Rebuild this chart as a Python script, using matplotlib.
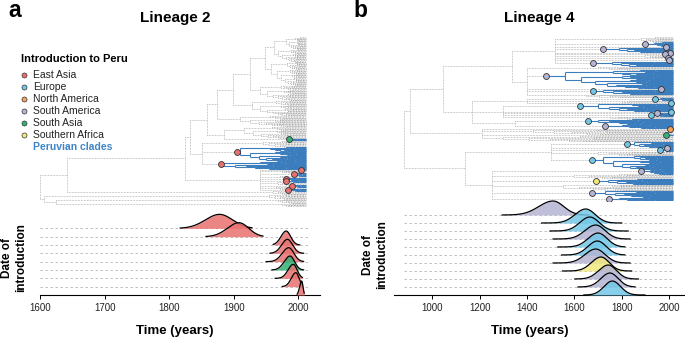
import matplotlib
matplotlib.use("Agg")
import matplotlib.pyplot as plt
from matplotlib.collections import LineCollection
import numpy as np

plt.rcParams["font.family"] = ["Liberation Sans", "DejaVu Sans"]

W, H = 685, 338

REGIONS = ["East Asia", "Europe", "North America", "South America",
           "South Asia", "Southern Africa"]
REGION_COLORS = ["#e8716f", "#72c7e7", "#f2a25a", "#b4b4d4", "#33b074", "#f1e97e"]
COL = dict(zip(REGIONS, REGION_COLORS))
PERU_BLUE = "#3b7dbd"
GRAY = "#999999"

EA, EU, NA, SAM, SAS, SAF = REGIONS

# ---------------------------------------------------------------- ridges
L2_RIDGE_REGION = [EA, EA, EA, EA, EA, SAS, EA, EA, EA]
L2_RIDGE_MODE = [1878, 1908, 1981, 1983, 1985, 1987, 1992, 1996, 2005]
L2_RIDGE_SDL = [22, 18, 8, 9, 10, 9, 8, 7, 3]
L2_RIDGE_SDR = [20, 15, 7, 8, 8, 7, 6, 5, 2]
L2_RIDGE_LO = [1817, 1857, 1961, 1956, 1950, 1959, 1964, 1975, 1998]
L2_RIDGE_HI = [1928, 1945, 2002, 2008, 2008, 2008, 2006, 2006, 2009]

L4_RIDGE_REGION = [SAM, EU, EU, SAM, EU, EU, SAM, SAF, SAM, SAM, EU]
L4_RIDGE_MODE = [1510, 1648, 1665, 1690, 1700, 1697, 1690, 1712, 1743, 1750, 1760]
L4_RIDGE_SDL = [60, 45, 42, 45, 42, 40, 45, 40, 40, 38, 35]
L4_RIDGE_SDR = [45, 40, 40, 40, 38, 38, 40, 35, 35, 35, 35]
L4_RIDGE_LO = [1295, 1462, 1497, 1510, 1530, 1546, 1510, 1550, 1602, 1615, 1640]
L4_RIDGE_HI = [1660, 1800, 1827, 1835, 1813, 1813, 1835, 1842, 1870, 1856, 1898]


# ---------------------------------------------------------------- trees
# N(time, children) internal node, G(n tips, mrca) grey clade,
# I(region, n tips, introduction date, mrca) Peruvian clade
def N(t, kids):
    return ("N", t, kids)


def G(k, t0):
    return ("G", k, t0)


def I(region, k, t_in, t0=None):
    return ("I", region, k, t_in, t_in if t0 is None else t0)


L2_TREE = N(1600, [
    N(1642, [
        N(1824, [
            N(1832, [
                N(1858, [
                    N(1874, [
                        N(1899, [
                            N(1925, [
                                N(1948, [
                                    N(1962, [G(18, 1980), G(18, 1968)]),
                                    G(34, 1958),
                                ]),
                                G(22, 1940),
                            ]),
                            G(22, 1928),
                        ]),
                        G(15, 1910),
                    ]),
                    N(1885, [G(18, 1915), I(SAS, 3, 1985)]),
                ]),
                N(1850, [G(9, 1945), I(EA, 22, 1905, 1910), I(EA, 10, 1880, 1883)]),
            ]),
            N(1940, [I(EA, 2, 2004), G(4, 1975), I(EA, 4, 1993, 1997), G(3, 1972),
                     I(EA, 3, 1981, 1986), I(EA, 3, 1981, 1988), G(4, 1968),
                     I(EA, 3, 1990, 1995), G(3, 1965), I(EA, 3, 1984, 1991)]),
        ]),
        G(5, 1960),
    ]),
    N(1606, [G(7, 1955), N(1625, [G(5, 1968), G(6, 1975)])]),
])

L4_TREE = N(880, [
    N(905, [
        N(1045, [
            N(1336, [
                N(1518, [G(8, 1880), I(SAM, 6, 1898, 1935), I(SAM, 2, 1988),
                         I(SAM, 8, 1719, 1790), I(SAM, 2, 2005), I(SAM, 2, 1983),
                         G(4, 1900), I(SAM, 2, 1994), I(SAM, 4, 2000, 2002),
                         I(SAM, 8, 1677, 1760)]),
                N(1400, [G(5, 1700), I(SAM, 28, 1482, 1560), I(SAM, 2, 1965),
                         I(EU, 8, 1677, 1720), G(5, 1650)]),
            ]),
            N(1167, [
                N(1400, [I(EU, 4, 1941, 1960), G(3, 1800), I(EU, 2, 2008)]),
                N(1300, [I(EU, 12, 1624, 1700), I(EU, 2, 2008), I(SAM, 2, 1948),
                         I(EU, 4, 1923, 1950), G(4, 1750)]),
                N(1350, [I(EU, 8, 1656, 1700), I(SAM, 6, 1729, 1800)]),
            ]),
        ]),
        N(1210, [I(NA, 2, 2002), G(8, 1425), I(SAS, 2, 1988), G(9, 1300)]),
    ]),
    N(1138, [
        N(1500, [I(EU, 9, 1824, 1850), I(SAM, 2, 1990), I(EU, 4, 1960, 1980),
                 G(7, 1700), I(EU, 22, 1675, 1720)]),
        N(1250, [I(SAM, 6, 1881, 1920), G(8, 1600), I(SAF, 8, 1690, 1740),
                 G(10, 1550), I(SAM, 10, 1675, 1730), I(SAM, 6, 1744, 1790)]),
    ]),
])


def fan(k, t0, T, ctx, style):
    if k == 1:
        y = ctx["next"]
        ctx["next"] += 1
        ctx[style].append([(t0, y), (T, y)])
        return y
    n_top = max(1, k // 3)
    t_top = t0 + (T - t0) * 0.45
    t_bot = t0 + (T - t0) * 0.15
    y1 = fan(n_top, t_top, T, ctx, style)
    y2 = fan(k - n_top, t_bot, T, ctx, style)
    ctx[style] += [[(t0, y1), (t0, y2)], [(t0, y1), (t_top, y1)],
                   [(t0, y2), (t_bot, y2)]]
    return (y1 + y2) / 2


def layout(node, t_parent, T, ctx):
    if node[0] == "N":
        _, t, kids = node
        ys = [layout(kid, t, T, ctx) for kid in kids]
        y = (ys[0] + ys[-1]) / 2
        ctx["gray"] += [[(t, ys[0]), (t, ys[-1])], [(t_parent, y), (t, y)]]
        return y
    if node[0] == "G":
        _, k, t0 = node
        y = fan(k, t0, T, ctx, "gray")
        ctx["gray"].append([(t_parent, y), (t0, y)])
        return y
    _, region, k, t_in, t0 = node
    y = fan(k, t0, T, ctx, "blue")
    ctx["gray"].append([(t_parent, y), (t_in, y)])
    ctx["blue"].append([(t_in, y), (t0, y)])
    ctx["dots"].append((t_in, y, region))
    return y


def draw_tree(ax, tree, T):
    ctx = {"gray": [], "blue": [], "dots": [], "next": 0}
    layout(tree, tree[1], T, ctx)
    ax.add_collection(LineCollection(ctx["gray"], colors=GRAY, linewidths=0.5,
                                     linestyles=(0, (1, 1.2)), zorder=1))
    ax.add_collection(LineCollection(ctx["blue"], colors=PERU_BLUE,
                                     linewidths=0.8, zorder=2))
    for t, y, region in ctx["dots"]:
        ax.scatter(t, y, s=18, color=COL[region], edgecolors="#333333",
                   linewidths=0.6, zorder=3)
    ax.set_ylim(ctx["next"] - 0.5, -0.5)
    ax.axis("off")


def draw_ridges(ax, regions, modes, sdl, sdr, lo, hi, height, x_dash):
    n = len(modes)
    for i in range(n):
        base = n - 1 - i
        if base > 0:
            ax.plot(x_dash, [base, base], color="#b5b5b5", lw=0.6,
                    ls=(0, (3, 3)), zorder=1)
        x = np.linspace(lo[i], hi[i], 300)
        sd = np.where(x < modes[i], sdl[i], sdr[i])
        d = height * np.exp(-0.5 * ((x - modes[i]) / sd) ** 2)
        ax.fill_between(x, base, base + d, color=COL[regions[i]], alpha=0.85,
                        lw=0, zorder=2 + 2 * i)
        ax.plot(x, base + d, color="black", lw=0.9, zorder=3 + 2 * i)
    for s in ("left", "right", "top"):
        ax.spines[s].set_visible(False)
    ax.spines["bottom"].set_linewidth(0.8)
    ax.set_yticks([])
    ax.tick_params(axis="x", length=3, width=0.7, pad=3, labelsize=7,
                   labelcolor="#222222")
    ax.patch.set_alpha(0)


fig = plt.figure(figsize=(W / 100, H / 100), dpi=100)


def px_axes(x0, y0, x1, y1):
    return fig.add_axes([x0 / W, 1 - y1 / H, (x1 - x0) / W, (y1 - y0) / H])


def ftext(x, y, s, **kw):
    fig.text(x / W, 1 - y / H, s, **kw)


# ---- panel a
L2_XLIM = (1600, 2033.4)
ax = px_axes(40, 37, 320, 207)
draw_tree(ax, L2_TREE, 2012)
ax.set_xlim(*L2_XLIM)

ax = px_axes(40, 205, 320, 295)
draw_ridges(ax, L2_RIDGE_REGION, L2_RIDGE_MODE, L2_RIDGE_SDL, L2_RIDGE_SDR,
            L2_RIDGE_LO, L2_RIDGE_HI, 1.68, [1600, 2018])
ax.set_xlim(*L2_XLIM)
ax.set_ylim(0, 90 / 8.33)
ax.set_xticks([1600, 1700, 1800, 1900, 2000])

# ---- panel b
L4_XLIM = (838.3, 2067)
ax = px_axes(394, 37, 685, 201)
draw_tree(ax, L4_TREE, 2015)
ax.set_xlim(*L4_XLIM)

ax = px_axes(394, 195, 685, 295)
draw_ridges(ax, L4_RIDGE_REGION, L4_RIDGE_MODE, L4_RIDGE_SDL, L4_RIDGE_SDR,
            L4_RIDGE_LO, L4_RIDGE_HI, 1.75, [880, 2017])
ax.set_xlim(*L4_XLIM)
ax.set_ylim(0, 12.5)
ax.set_xticks([1000, 1200, 1400, 1600, 1800, 2000])

# ---- text
ftext(8, 17, "a", fontsize=16.5, fontweight="bold", va="baseline")
ftext(353, 17, "b", fontsize=16.5, fontweight="bold", va="baseline")
ftext(175, 22, "Lineage 2", fontsize=11, fontweight="bold", ha="center",
      va="baseline")
ftext(539, 22, "Lineage 4", fontsize=11, fontweight="bold", ha="center",
      va="baseline")
ftext(175, 334, "Time (years)", fontsize=9.5, fontweight="bold", ha="center",
      va="baseline")
ftext(530, 334, "Time (years)", fontsize=9.5, fontweight="bold", ha="center",
      va="baseline")
ftext(14, 258, "Date of\nintroduction", fontsize=8.5, fontweight="bold",
      rotation=90, ha="center", va="center", multialignment="center")
ftext(375, 255, "Date of\nintroduction", fontsize=8.5, fontweight="bold",
      rotation=90, ha="center", va="center", multialignment="center")

# legend
ftext(21, 59, "Introduction to Peru", fontsize=8, fontweight="bold",
      va="center")
for i, region in enumerate(REGIONS):
    y = 75 + 12 * i
    fig.add_artist(plt.Line2D([24.5 / W], [1 - y / H], marker="o", ms=3.6,
                              mfc=COL[region], mec="#333333", mew=0.5,
                              ls="none", transform=fig.transFigure))
    ftext(33, y, region, fontsize=7.5, va="center", color="#222222")
ftext(33, 147, "Peruvian clades", fontsize=7.5, fontweight="bold",
      color="#3d85c6", va="center")

fig.savefig("out.png", dpi=100)
